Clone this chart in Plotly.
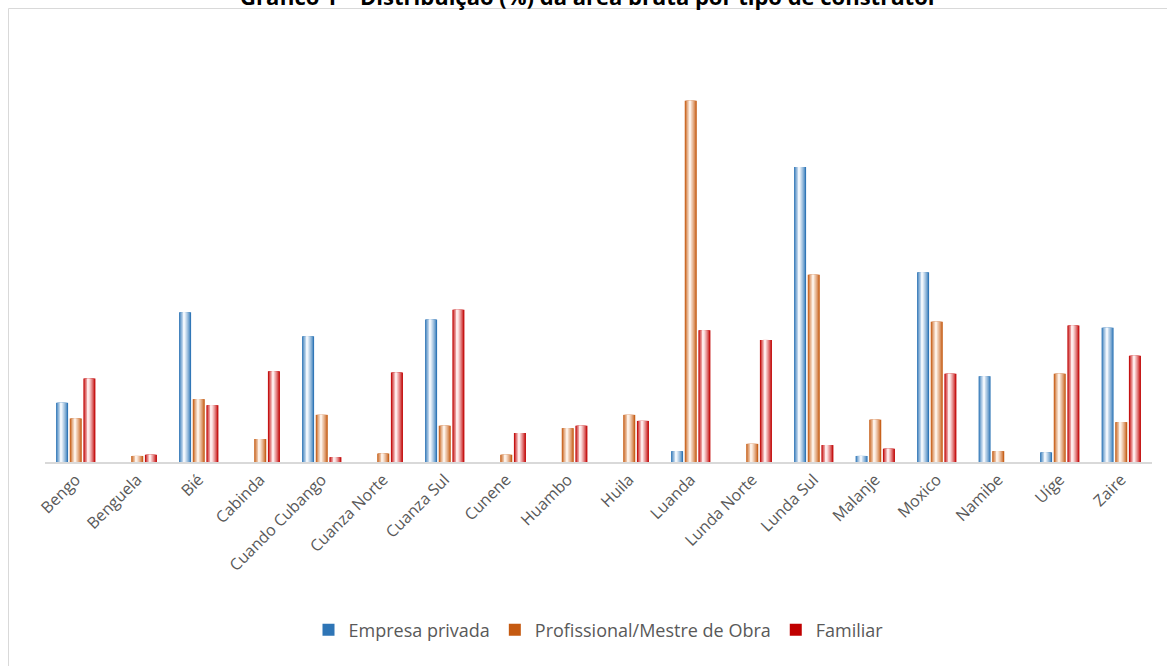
import plotly.graph_objects as go

categories = ["Bengo", "Benguela", "Bié", "Cabinda", "Cuando Cubango", "Cuanza Norte",
              "Cuanza Sul", "Cunene", "Huambo", "Huila", "Luanda", "Lunda Norte",
              "Lunda Sul", "Malanje", "Moxico", "Namibe", "Uíge", "Zaire"]

empresa_privada = [4.9, 0, 12.4, 0, 10.4, 0, 11.8, 0, 0, 0, 0.9, 0, 24.4, 0.5, 15.7, 7.1, 0.8, 11.1]
profissional = [3.6, 0.5, 5.2, 1.9, 3.9, 0.7, 3.0, 0.6, 2.8, 3.9, 29.9, 1.5, 15.5, 3.5, 11.6, 0.9, 7.3, 3.3]
familiar = [6.9, 0.6, 4.7, 7.5, 0.4, 7.4, 12.6, 2.4, 3.0, 3.4, 10.9, 10.1, 1.4, 1.1, 7.3, 0, 11.3, 8.8]

series_names = ["Empresa privada", "Profissional/Mestre de Obra", "Familiar"]
title_text = "Gráfico 1 – Distribuição (%) da área bruta por tipo de construtor"

# styling
edge_colors = [(46, 117, 182), (197, 90, 17), (192, 0, 0)]
center_colors = [(240, 246, 252), (253, 240, 230), (254, 234, 234)]
offsets = [-0.222, 0.0, 0.222]
bar_w = 0.195
n_layers = 7

W, H = 1167, 666
ml, mr, mt, mb = 45, 15, 39, 204
pw, ph = W - ml - mr, H - mt - mb


def mix(c1, c2, t):
    return "rgb(%d,%d,%d)" % tuple(round(a + (b - a) * t) for a, b in zip(c1, c2))


def py(pix):
    return (H - mb - pix) / ph


def px(pix):
    return (pix - ml) / pw


fig = go.Figure()
for s, (name, vals) in enumerate(zip(series_names, [empresa_privada, profissional, familiar])):
    for k in range(n_layers):
        t = k / (n_layers - 1)
        w = bar_w * (1 - 0.88 * t)
        center = offsets[s] - 0.012 * t
        fig.add_trace(go.Bar(
            x=categories, y=vals, name=name,
            width=w, offset=center - w / 2,
            marker=dict(color=mix(edge_colors[s], center_colors[s], t ** 0.8), line=dict(width=0)),
            showlegend=(k == 0), legendgroup=name, hoverinfo="skip" if k else None,
        ))

fig.update_layout(
    width=W, height=H,
    barmode="overlay",
    margin=dict(l=ml, r=mr, t=mt, b=mb),
    paper_bgcolor="white", plot_bgcolor="white",
    font=dict(family="Open Sans, Liberation Sans, sans-serif", color="#595959"),
    xaxis=dict(type="category", tickangle=-45, showgrid=False, showline=True,
               linecolor="#d9d9d9", linewidth=2, ticks="", tickfont=dict(size=16, color="#595959"),
               range=[-0.5, len(categories) - 0.5]),
    yaxis=dict(range=[0, 35], visible=False, showgrid=False),
    legend=dict(orientation="h", x=0.5, xanchor="center", y=py(630),
                yanchor="middle", font=dict(size=18, color="#595959"),
                itemwidth=30, tracegroupgap=0),
    annotations=[dict(text="<b>" + title_text + "</b>", xref="paper", yref="paper",
                      x=px(W / 2 + 5), y=py(-4), xanchor="center", yanchor="middle",
                      showarrow=False, font=dict(size=22, color="#000000"))],
    shapes=[dict(type="rect", xref="paper", yref="paper",
                 x0=px(8.5), x1=px(W + 20),
                 y0=py(H + 20), y1=py(8.5),
                 line=dict(color="#d9d9d9", width=1), fillcolor="rgba(0,0,0,0)", layer="below")],
)

fig.write_html("out.html")
